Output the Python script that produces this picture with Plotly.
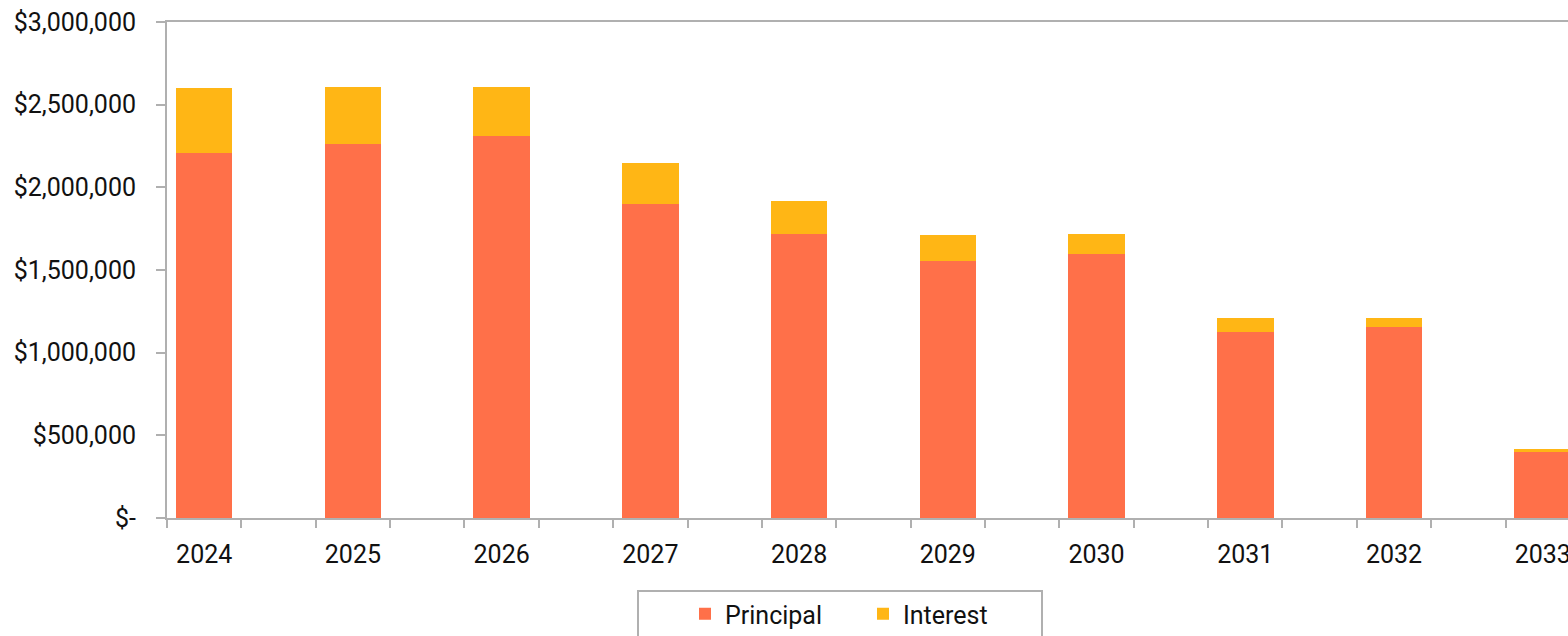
import plotly.graph_objects as go

years = ["2024", "2025", "2026", "2027", "2028", "2029", "2030", "2031", "2032", "2033"]
principal = [2207000, 2262000, 2308000, 1900000, 1719000, 1555000, 1598000, 1126000, 1154000, 399000]
interest = [392000, 347000, 300000, 245000, 198000, 154000, 121000, 84000, 56000, 21000]
y_ticks = [0, 500000, 1000000, 1500000, 2000000, 2500000, 3000000]
y_labels = ["$-", "$500,000", "$1,000,000", "$1,500,000", "$2,000,000", "$2,500,000", "$3,000,000"]

xpos = list(range(len(years)))
FONT = "Roboto, Arial, sans-serif"
AXIS = "#B0B0B0"
FS = 25

W, H = 1568, 636
L = 167
T = 22
R = 0
ph = 496
B = H - T - ph
pw = W - L - R


def px_x(x):  # window pixel -> paper x
    return (x - L) / pw


def px_y(y):  # window pixel -> paper y
    return 1 - (y - T) / ph


fig = go.Figure()
fig.add_trace(go.Bar(x=xpos, y=principal, name="Principal", marker_color="#FF7049",
                     marker_line_width=0, width=0.38))
fig.add_trace(go.Bar(x=xpos, y=interest, name="Interest", marker_color="#FFB615",
                     marker_line_width=0, width=0.38))

fig.update_layout(
    width=W, height=H,
    barmode="stack",
    plot_bgcolor="white", paper_bgcolor="white",
    margin=dict(l=L, r=R, t=T, b=B, pad=0, autoexpand=False),
    font=dict(family=FONT, size=FS, color="#111111"),
    showlegend=True,
    legend=dict(orientation="h", x=px_x(685), xanchor="left",
                y=px_y(614), yanchor="middle",
                font=dict(size=FS), bgcolor="rgba(0,0,0,0)", borderwidth=0,
                itemwidth=30, traceorder="normal", entrywidth=133),
    xaxis=dict(range=[-0.25, 9.17], tickmode="array", tickvals=xpos, ticktext=years,
               ticks="", showgrid=False, zeroline=False,
               showline=True, linecolor=AXIS, linewidth=2, mirror=True,
               ticklabelstandoff=13, ticklabeloverflow="allow",
               minor=dict(tickmode="linear", tick0=-0.25, dtick=0.5, ticks="outside",
                          ticklen=8, tickcolor=AXIS, tickwidth=2, showgrid=False)),
    yaxis=dict(range=[0, 3000000], tickmode="array", tickvals=y_ticks, ticktext=y_labels,
               ticks="outside", ticklen=9, tickcolor=AXIS, tickwidth=2,
               showgrid=False, zeroline=False, showline=True, linecolor=AXIS, linewidth=2,
               ticklabelstandoff=15, ticklabeloverflow="allow"),
)

fig.add_shape(type="rect", xref="paper", yref="paper",
              x0=px_x(638), x1=px_x(1042),
              y0=px_y(660), y1=px_y(591),
              line=dict(color=AXIS, width=2), fillcolor="rgba(0,0,0,0)", layer="below")

fig.write_html("out.html",
               config={"displayModeBar": False},
               post_script="document.body.style.margin='0';document.body.style.overflow='hidden';")
